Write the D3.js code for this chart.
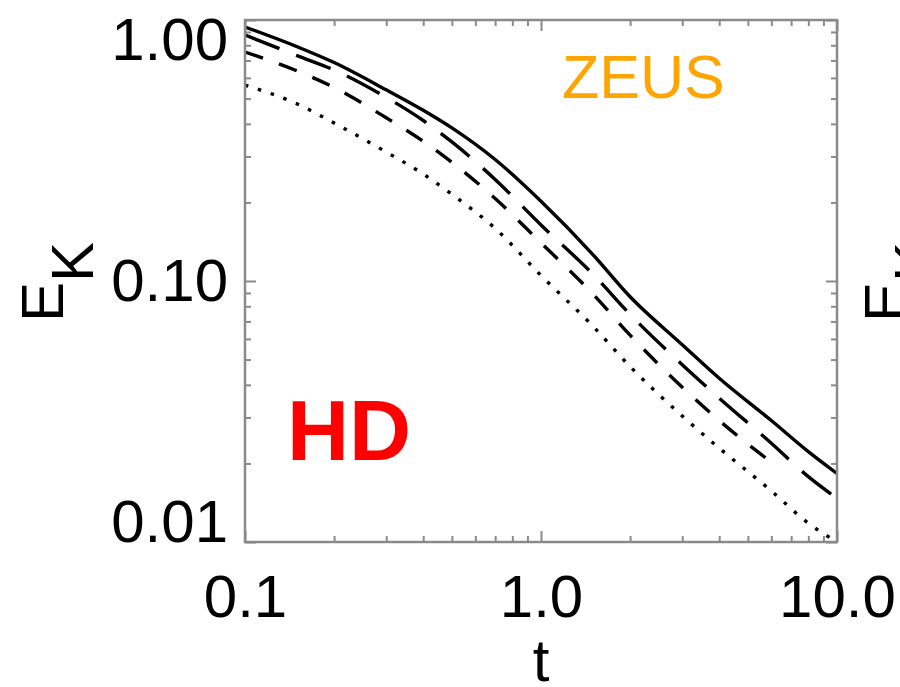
<!DOCTYPE html>
<html>
<head>
<meta charset="utf-8">
<script src="https://cdn.jsdelivr.net/npm/d3@7"></script>
<style>
body { margin: 0; background: #fff; }
svg { display: block; font-family: "Liberation Sans", Arial, Helvetica, sans-serif; }
</style>
</head>
<body>
<svg id="chart" width="900" height="687"></svg>
<script>
// Kinetic energy decay
const tVals = [0.1, 0.15, 0.2, 0.3, 0.4, 0.5, 0.7, 1.0, 1.5, 2, 3, 4, 6, 8, 10];
const ekSolid = [0.94, 0.79, 0.687, 0.54, 0.451, 0.386, 0.292, 0.202, 0.126, 0.087, 0.0570, 0.0424, 0.0292, 0.0222, 0.0183];
const ekLong = [0.876, 0.730, 0.643, 0.505, 0.412, 0.341, 0.245, 0.164, 0.106, 0.0745, 0.0478, 0.0356, 0.0239, 0.0178, 0.0147];
const tMed = [0.1, 0.15, 0.2, 0.3, 0.4, 0.5, 0.7, 1.0, 1.5, 2, 3, 4, 5.8];
const ekMed = [0.754, 0.638, 0.551, 0.422, 0.343, 0.285, 0.207, 0.140, 0.0890, 0.0620, 0.0392, 0.0292, 0.0208];
const ekDot = [0.563, 0.477, 0.403, 0.312, 0.257, 0.215, 0.159, 0.105, 0.0670, 0.0470, 0.0304, 0.0229, 0.0157, 0.0118, 0.0100];

const xMajor = [0.1, 1, 10];
const xMajorLabels = ['0.1', '1.0', '10.0'];
const xMinor = [0.2, 0.3, 0.4, 0.5, 0.6, 0.7, 0.8, 0.9, 2, 3, 4, 5, 6, 7, 8, 9];
const yMajor = [0.01, 0.1, 1];
const yMajorLabels = ['0.01', '0.10', '1.00'];
const yMinor = [0.02, 0.03, 0.04, 0.05, 0.06, 0.07, 0.08, 0.09, 0.2, 0.3, 0.4, 0.5, 0.6, 0.7, 0.8, 0.9];

const L = 245, R = 837, T = 20, B = 542;
const AXIS_COLOR = '#8a8a8a';

const svg = d3.select('#chart');

const x = d3.scaleLog().domain([0.1, 10]).range([L, R]);
const y = d3.scaleLog().domain([0.01, 1]).range([B, T]);

svg.append('defs').append('clipPath').attr('id', 'plot-clip')
    .append('rect').attr('x', L).attr('y', T).attr('width', R - L).attr('height', B - T);

// curves
const series = [
    { t: tVals, v: ekSolid, dash: null },
    { t: tVals, v: ekLong, dash: '37 18' },
    { t: tMed, v: ekMed, dash: '19 17' },
    { t: tVals, v: ekDot, dash: '3.5 10' }
];

const line = d3.line()
    .x(d => x(d[0]))
    .y(d => y(d[1]))
    .curve(d3.curveMonotoneX);

svg.append('g')
    .attr('clip-path', 'url(#plot-clip)')
    .selectAll('path')
    .data(series)
    .join('path')
    .attr('d', s => line(s.t.map((t, i) => [t, s.v[i]])))
    .attr('fill', 'none')
    .attr('stroke', '#000')
    .attr('stroke-width', 3.4)
    .attr('stroke-dasharray', s => s.dash);

// axes: major + minor ticks on all four sides, pointing inward
function styleAxis(g) {
    g.select('.domain').remove();
    g.selectAll('.tick line').attr('stroke', AXIS_COLOR).attr('stroke-width', 2);
}

function addAxis(axisFn, scale, values, size, transform) {
    return svg.append('g')
        .attr('transform', transform)
        .call(axisFn(scale).tickValues(values).tickSize(size).tickFormat(''))
        .call(styleAxis);
}

addAxis(d3.axisBottom, x, xMinor, -6, `translate(0,${B})`);
addAxis(d3.axisTop, x, xMinor, -6, `translate(0,${T})`);
addAxis(d3.axisTop, x, xMajor, -11, `translate(0,${T})`);
addAxis(d3.axisLeft, y, yMinor, -6, `translate(${L},0)`);
addAxis(d3.axisRight, y, yMinor, -6, `translate(${R},0)`);
addAxis(d3.axisRight, y, yMajor, -11, `translate(${R},0)`);

const xAxis = svg.append('g')
    .attr('transform', `translate(0,${B})`)
    .call(d3.axisBottom(x).tickValues(xMajor).tickSize(-11)
        .tickFormat((d, i) => xMajorLabels[i]))
    .call(styleAxis);
xAxis.selectAll('.tick text')
    .attr('y', 75).attr('dy', 0)
    .attr('fill', '#000').attr('font-size', 60);

const yAxis = svg.append('g')
    .attr('transform', `translate(${L},0)`)
    .call(d3.axisLeft(y).tickValues(yMajor).tickSize(-11).tickPadding(17)
        .tickFormat((d, i) => yMajorLabels[i]))
    .call(styleAxis);
// end labels sit inside the axis range
yAxis.selectAll('.tick text')
    .attr('fill', '#000').attr('font-size', 60)
    .attr('y', d => d === 1 ? 20 : (d === 0.01 ? -20 : 0));

// frame
svg.append('rect')
    .attr('x', L).attr('y', T)
    .attr('width', R - L).attr('height', B - T)
    .attr('fill', 'none')
    .attr('stroke', AXIS_COLOR)
    .attr('stroke-width', 2.5);

// axis titles
svg.append('text')
    .attr('x', 541).attr('y', 681)
    .attr('text-anchor', 'middle')
    .attr('font-size', 60)
    .text('t');

function ekLabel(xPos) {
    const lab = svg.append('text')
        .attr('transform', `translate(${xPos},322) rotate(-90)`)
        .attr('font-size', 60)
        .text('E');
    lab.append('tspan').attr('dy', 30).text('K');
}
ekLabel(63);
ekLabel(906); // next panel's label, cut by the edge

// annotations
svg.append('text')
    .attr('x', 562).attr('y', 98)
    .attr('font-size', 61)
    .attr('fill', '#FFA500')
    .text('ZEUS');

svg.append('text')
    .attr('x', 287).attr('y', 460)
    .attr('font-size', 86)
    .attr('font-weight', 'bold')
    .attr('fill', '#FF0000')
    .text('HD');
</script>
</body>
</html>
